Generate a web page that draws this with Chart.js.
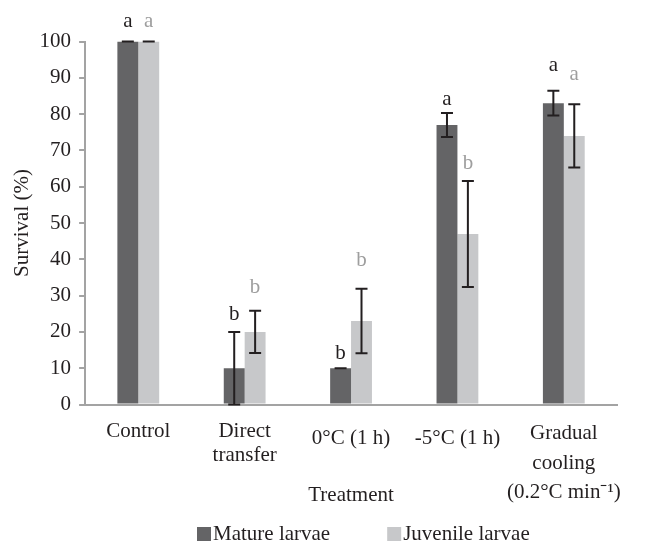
<!DOCTYPE html>
<html>
<head>
<meta charset="utf-8">
<script src="https://cdn.jsdelivr.net/npm/chart.js@4"></script>
<style>
  body { margin: 0; background: #fff; }
  canvas { display: block; }
</style>
</head>
<body>
<canvas id="chart" width="656" height="543"></canvas>
<script>
  // treatments along the x axis
  var categories = ['Control', ['Direct', 'transfer'], '0°C (1 h)', '-5°C (1 h)', ['Gradual', 'cooling', '(0.2°C min⁻¹)']];

  // survival (%) and error (±)
  var matureSurvival   = [100, 10, 10, 77, 83];
  var juvenileSurvival = [100, 20, 23, 47, 74];
  var matureError      = [0, 10, 0, 3.3, 3.4];
  var juvenileError    = [0, 5.8, 8.9, 14.6, 8.7];

  // significance letters
  var matureLetters   = ['a', 'b', 'b', 'a', 'a'];
  var juvenileLetters = ['a', 'b', 'b', 'b', 'a'];

  var yMin = 0, yMax = 100, yStep = 10;

  var FONT = 'Liberation Serif';
  var INK = '#231f20';
  var AXIS = '#a3a3a3';

  // error bars + letters on top of each bar
  var errorBarPlugin = {
    id: 'errorBars',
    afterDatasetsDraw: function(chart, args, opts) {
      var ctx = chart.ctx;
      var y = chart.scales.y;
      chart.data.datasets.forEach(function(ds, di) {
        var meta = chart.getDatasetMeta(di);
        meta.data.forEach(function(bar, i) {
          var v = ds.data[i], e = ds.errors[i];
          var top = y.getPixelForValue(v + e);
          var bottom = y.getPixelForValue(v - e);
          ctx.save();
          ctx.strokeStyle = INK;
          ctx.lineWidth = 2;
          ctx.beginPath();
          ctx.moveTo(bar.x, top); ctx.lineTo(bar.x, bottom);
          ctx.moveTo(bar.x - 6, top); ctx.lineTo(bar.x + 6, top);
          ctx.moveTo(bar.x - 6, bottom); ctx.lineTo(bar.x + 6, bottom);
          ctx.stroke();
          // letter
          ctx.fillStyle = ds.letterColor;
          ctx.font = '21px "' + FONT + '"';
          ctx.textAlign = 'center';
          ctx.textBaseline = 'alphabetic';
          ctx.fillText(ds.letters[i], bar.x, top - opts.lift[di][i]);
          ctx.restore();
        });
      });
    }
  };

  // legend drawn under the axis title
  var legendPlugin = {
    id: 'bottomLegend',
    afterDraw: function(chart, args, opts) {
      var ctx = chart.ctx;
      var x = opts.x;
      ctx.save();
      ctx.font = '21px "' + FONT + '"';
      ctx.textBaseline = 'middle';
      ctx.textAlign = 'left';
      chart.data.datasets.forEach(function(ds) {
        ctx.fillStyle = ds.backgroundColor;
        ctx.fillRect(x, opts.y - opts.box / 2, opts.box, opts.box);
        x += opts.box + opts.gap;
        ctx.fillStyle = INK;
        ctx.fillText(ds.label, x, opts.y);
        x += ctx.measureText(ds.label).width + opts.spacing;
      });
      ctx.restore();
    }
  };

  window.addEventListener('load', function() {
    var ctx = document.getElementById('chart').getContext('2d');

    new Chart(ctx, {
      type: 'bar',
      data: {
        labels: categories,
        datasets: [
          {
            label: 'Mature larvae',
            data: matureSurvival,
            errors: matureError,
            letters: matureLetters,
            letterColor: INK,
            backgroundColor: '#646466'
          },
          {
            label: 'Juvenile larvae',
            data: juvenileSurvival,
            errors: juvenileError,
            letters: juvenileLetters,
            letterColor: '#9e9e9e',
            backgroundColor: '#c7c8ca'
          }
        ]
      },
      options: {
        responsive: false,
        animation: false,
        devicePixelRatio: 1,
        categoryPercentage: 0.393,
        barPercentage: 1,
        layout: { padding: { top: 41.5, left: 0, right: 39, bottom: 19.9 } },
        plugins: {
          legend: { display: false },
          tooltip: { enabled: false },
          errorBars: {
            lift: [[15, 12, 9, 8, 20], [15, 18, 23, 12, 24]]
          },
          bottomLegend: { x: 197, y: 534, box: 14, gap: 2, spacing: 57 }
        },
        scales: {
          x: {
            grid: { display: false, drawTicks: false },
            border: { display: true, color: AXIS, width: 2 },
            ticks: {
              color: INK,
              padding: 14.5,
              autoSkip: false,
              maxRotation: 0,
              minRotation: 0,
              font: function(c) {
                var lh = 1.15;
                if (c.index === 2 || c.index === 3) lh = 1.9;
                if (c.index === 4) lh = 1.4;
                return { family: FONT, size: 21, lineHeight: lh };
              }
            },
            title: {
              display: true,
              text: 'Treatment',
              color: INK,
              font: { family: FONT, size: 21, lineHeight: 1.2 },
              padding: { top: -39.3, bottom: 15.5 }
            }
          },
          y: {
            min: yMin,
            max: yMax,
            grid: { display: true, drawOnChartArea: false, drawTicks: true, tickLength: 6, color: AXIS, lineWidth: 2 },
            border: { display: true, color: AXIS, width: 2 },
            ticks: {
              stepSize: yStep,
              color: INK,
              padding: 8,
              font: { family: FONT, size: 21 }
            },
            title: {
              display: true,
              text: 'Survival (%)',
              color: INK,
              font: { family: FONT, size: 21, lineHeight: 1.2 },
              padding: { top: 9.4, bottom: -3 }
            }
          }
        }
      },
      plugins: [errorBarPlugin, legendPlugin]
    });
  });
</script>
</body>
</html>
